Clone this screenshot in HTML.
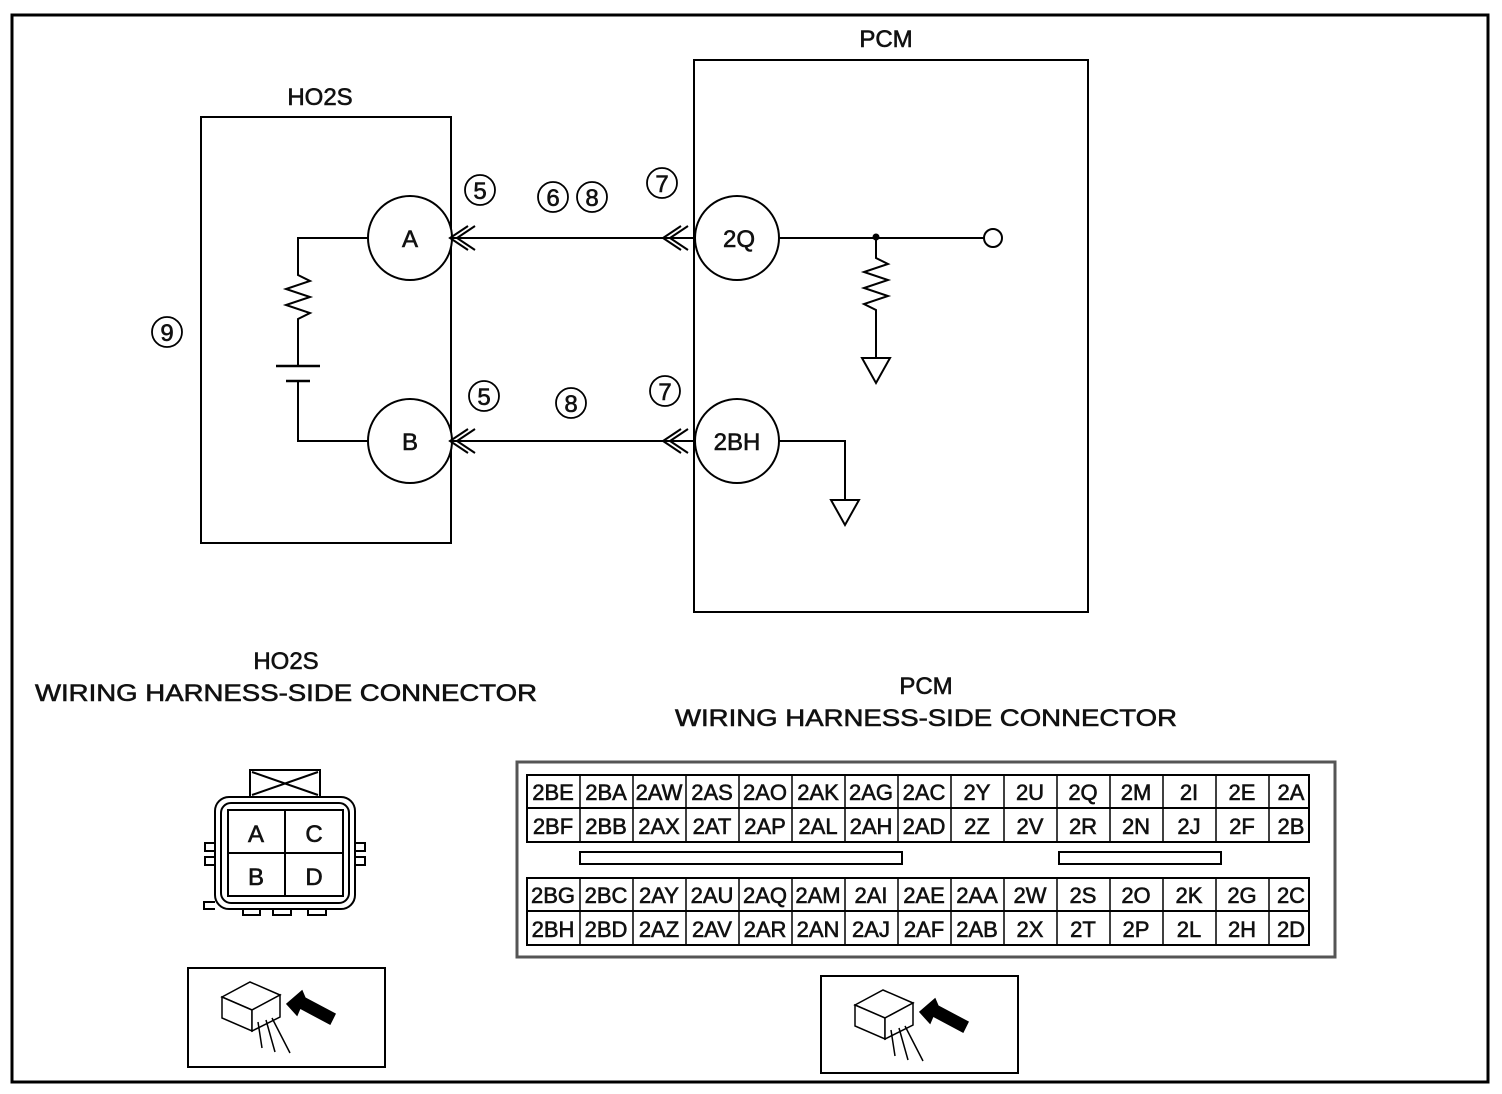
<!DOCTYPE html>
<html><head><style>
html,body{margin:0;padding:0;background:#fff;}
svg{display:block;}
text{font-family:"Liberation Sans",sans-serif;fill:#111;stroke:#111;stroke-width:0.6;}
</style></head><body>
<svg width="1502" height="1094" viewBox="0 0 1502 1094" xmlns="http://www.w3.org/2000/svg">
<rect x="12" y="15" width="1476" height="1067" fill="none" stroke="#000" stroke-width="3"/>
<g stroke="#000" stroke-width="2" fill="none">
<rect x="201" y="117" width="250" height="426"/>
<rect x="694" y="60" width="394" height="552"/>
<circle cx="410" cy="238" r="42" fill="#fff"/>
<circle cx="410" cy="441" r="42" fill="#fff"/>
<circle cx="737" cy="238" r="42" fill="#fff"/>
<circle cx="737" cy="441" r="42" fill="#fff"/>
<path d="M368 238H298V275l12 6-24 8 24 8-24 8 24 8-12 6V365"/>
<path d="M276 366H320M286 381H310" stroke-width="2.5"/>
<path d="M298 381V441H368"/>
<path d="M452 238H695M452 441H695"/>
<path d="M475 226l-18 12 18 12M468 226l-18 12 18 12"/>
<path d="M475 429l-18 12 18 12M468 429l-18 12 18 12"/>
<path d="M688 226l-18 12 18 12M681 226l-18 12 18 12"/>
<path d="M688 429l-18 12 18 12M681 429l-18 12 18 12"/>
<path d="M779 238H984"/>
<circle cx="993" cy="238" r="9"/>
<path d="M876 238V258l12 6-24 8 24 8-24 8 24 8-24 8 12 6V358"/>
<path d="M862 358H890L876 383Z"/>
<path d="M779 441H845V500"/>
<path d="M831 500H859L845 525Z"/>
</g>
<circle cx="876" cy="237" r="3.5" fill="#000"/>
<g font-size="24" text-anchor="middle">
<text x="410" y="247">A</text><text x="410" y="450">B</text>
<text x="739" y="247">2Q</text><text x="737" y="450">2BH</text>
<text x="886" y="47">PCM</text><text x="320" y="105">HO2S</text>
<text x="286" y="669">HO2S</text>
<text x="286" y="701" textLength="502" lengthAdjust="spacingAndGlyphs">WIRING HARNESS-SIDE CONNECTOR</text>
<text x="926" y="694">PCM</text>
<text x="926" y="726" textLength="502" lengthAdjust="spacingAndGlyphs">WIRING HARNESS-SIDE CONNECTOR</text>
</g>
<g stroke="#000" stroke-width="1.8" fill="none">
<circle cx="480" cy="190" r="15"/><circle cx="553" cy="197" r="15"/><circle cx="592" cy="197" r="15"/>
<circle cx="662" cy="183" r="15"/><circle cx="167" cy="332" r="15"/>
<circle cx="484" cy="396" r="15"/><circle cx="571" cy="403" r="15"/><circle cx="665" cy="391" r="15"/>
</g>
<g font-size="24" text-anchor="middle">
<text x="480" y="199">5</text><text x="553" y="206">6</text><text x="592" y="206">8</text>
<text x="662" y="192">7</text><text x="167" y="341">9</text>
<text x="484" y="405">5</text><text x="571" y="412">8</text><text x="665" y="400">7</text>
</g>
<!-- PCM connector -->
<rect x="517" y="762" width="818" height="195" fill="none" stroke="#555" stroke-width="3"/>
<g stroke="#000" stroke-width="2" fill="none">
<rect x="527" y="775" width="782" height="67"/>
<line x1="527" y1="808" x2="1309" y2="808"/>
<rect x="527" y="878" width="782" height="67"/>
<line x1="527" y1="911" x2="1309" y2="911"/>
<rect x="580" y="852" width="322" height="12"/>
<rect x="1059" y="852" width="162" height="12"/>
</g>
<g stroke="#000" stroke-width="1.5">
<path d="M580 775V842M633 775V842M686 775V842M739 775V842M792 775V842M845 775V842M898 775V842M951 775V842M1004 775V842M1057 775V842M1110 775V842M1163 775V842M1216 775V842M1269 775V842"/>
<path d="M580 878V945M633 878V945M686 878V945M739 878V945M792 878V945M845 878V945M898 878V945M951 878V945M1004 878V945M1057 878V945M1110 878V945M1163 878V945M1216 878V945M1269 878V945"/>
</g>
<g font-size="22" text-anchor="middle">
<text x="553" y="800">2BE</text><text x="606" y="800">2BA</text><text x="659" y="800">2AW</text><text x="712" y="800">2AS</text><text x="765" y="800">2AO</text><text x="818" y="800">2AK</text><text x="871" y="800">2AG</text><text x="924" y="800">2AC</text><text x="977" y="800">2Y</text><text x="1030" y="800">2U</text><text x="1083" y="800">2Q</text><text x="1136" y="800">2M</text><text x="1189" y="800">2I</text><text x="1242" y="800">2E</text><text x="1291" y="800">2A</text>
<text x="553" y="834">2BF</text><text x="606" y="834">2BB</text><text x="659" y="834">2AX</text><text x="712" y="834">2AT</text><text x="765" y="834">2AP</text><text x="818" y="834">2AL</text><text x="871" y="834">2AH</text><text x="924" y="834">2AD</text><text x="977" y="834">2Z</text><text x="1030" y="834">2V</text><text x="1083" y="834">2R</text><text x="1136" y="834">2N</text><text x="1189" y="834">2J</text><text x="1242" y="834">2F</text><text x="1291" y="834">2B</text>
<text x="553" y="903">2BG</text><text x="606" y="903">2BC</text><text x="659" y="903">2AY</text><text x="712" y="903">2AU</text><text x="765" y="903">2AQ</text><text x="818" y="903">2AM</text><text x="871" y="903">2AI</text><text x="924" y="903">2AE</text><text x="977" y="903">2AA</text><text x="1030" y="903">2W</text><text x="1083" y="903">2S</text><text x="1136" y="903">2O</text><text x="1189" y="903">2K</text><text x="1242" y="903">2G</text><text x="1291" y="903">2C</text>
<text x="553" y="937">2BH</text><text x="606" y="937">2BD</text><text x="659" y="937">2AZ</text><text x="712" y="937">2AV</text><text x="765" y="937">2AR</text><text x="818" y="937">2AN</text><text x="871" y="937">2AJ</text><text x="924" y="937">2AF</text><text x="977" y="937">2AB</text><text x="1030" y="937">2X</text><text x="1083" y="937">2T</text><text x="1136" y="937">2P</text><text x="1189" y="937">2L</text><text x="1242" y="937">2H</text><text x="1291" y="937">2D</text>
</g>
<!-- HO2S connector -->
<g stroke="#000" stroke-width="2" fill="none">
<path d="M250 797V770H320V797M252 772L318 795M318 772L252 795"/>
<rect x="215" y="797" width="140" height="112" rx="14"/>
<rect x="221" y="803" width="128" height="100" rx="10"/>
<rect x="228" y="810" width="115" height="86"/>
<line x1="285" y1="810" x2="285" y2="896"/><line x1="228" y1="853" x2="343" y2="853"/>
<path d="M215 843H205V851H215M215 857H205V865H215M355 843H365V851H355M355 857H365V865H355"/>
<path d="M215 902H204V909H215M243 909V915H260V909M273 909V915H291V909M308 909V915H326V909"/>
</g>
<g font-size="24" text-anchor="middle"><text x="256" y="842">A</text><text x="314" y="842">C</text><text x="256" y="885">B</text><text x="314" y="885">D</text></g>
<!-- icons -->
<g stroke="#000" stroke-width="2" fill="none">
<rect x="188" y="968" width="197" height="99"/>
<rect x="821" y="976" width="197" height="97"/>
</g>
<g id="ic" stroke="#000" stroke-width="1.5" fill="#fff">
<path d="M222 997L250 982L280 995L252 1010Z"/>
<path d="M222 997V1018L252 1031V1010Z"/>
<path d="M252 1010L280 995V1017L252 1031Z"/>
<path d="M258 1022L262 1048M266 1020L275 1052M272 1018L290 1053" fill="none"/>
<path d="M287 1004L302 991L305 998L335 1014L330 1024L300 1008L297 1015Z" fill="#000"/>
</g>
<use href="#ic" x="633" y="8"/>
</svg>
</body></html>
